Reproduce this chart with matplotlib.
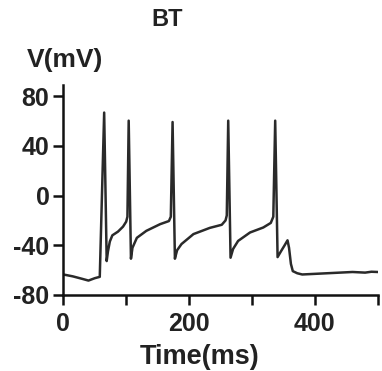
import matplotlib.pyplot as plt

plt.rcParams['font.family'] = ['Liberation Sans', 'DejaVu Sans']
plt.rcParams['font.weight'] = 'bold'

# membrane potential trace (ms, mV)
t = [0, 15, 30, 40, 50, 58, 65, 69, 71, 74, 78, 87, 95, 100, 102, 104,
     107.6, 110, 117, 132, 154, 168, 171, 173.8, 177.5, 181, 188, 207,
     233, 252, 258, 260, 262.3, 266, 270, 278, 297, 318, 330, 334, 337,
     340.8, 346, 352, 356.6, 359, 362, 365, 372, 380, 400, 420, 440,
     460, 480, 490, 500]
v = [-63.5, -65, -67, -68.4, -66.5, -65.4, 66.8, -52.7, -45, -37, -32,
     -29, -25, -21, -17, 60.3, -50.8, -42, -34, -28.4, -23, -20.5, -17,
     59.2, -50.8, -44, -39, -31, -26, -23.5, -20, -16, 60.3, -50, -43,
     -36.5, -29.7, -25.7, -22, -17, 60.3, -49.5, -45, -40, -36, -42,
     -55, -60.8, -62.5, -63.5, -63, -62.5, -62, -61.5, -62, -61.3, -61.5]

xticks = [0, 100, 200, 300, 400, 500]
xlabels = ['0', '', '200', '', '400', '']
yticks = [-80, -40, 0, 40, 80]
ylabels = ['-80', '-40', '0', '40', '80']

txt = '#222222'

fig = plt.figure(figsize=(3.82, 3.71), dpi=100)
ax = fig.add_axes([0.1657, 0.2049, 0.823, 0.566])

ax.plot(t, v, color='#2a2a2a', linewidth=1.8)

ax.set_xlim(0, 500)
ax.set_ylim(-80, 89)
ax.set_xticks(xticks)
ax.set_xticklabels(xlabels)
ax.set_yticks(yticks)
ax.set_yticklabels(ylabels)

for s in ['top', 'right']:
    ax.spines[s].set_visible(False)
for s in ['left', 'bottom']:
    ax.spines[s].set_linewidth(1.8)
    ax.spines[s].set_color('#111111')

ax.tick_params(width=1.8, length=7, color='#111111', labelsize=18,
               labelcolor=txt)
ax.tick_params(axis='x', pad=5)
ax.tick_params(axis='y', pad=3)

ax.set_xlabel('Time(ms)', fontsize=19.5, fontweight='bold', color=txt)
ax.xaxis.set_label_coords(0.435, -0.235)

ax.text(0.005, 1.12, 'V(mV)', transform=ax.transAxes, ha='center',
        va='center', fontsize=19, fontweight='bold', color=txt)
ax.text(0.33, 1.31, 'BT', transform=ax.transAxes, ha='center',
        va='center', fontsize=17, fontweight='bold', color=txt)

plt.savefig('out.png', dpi=100)
